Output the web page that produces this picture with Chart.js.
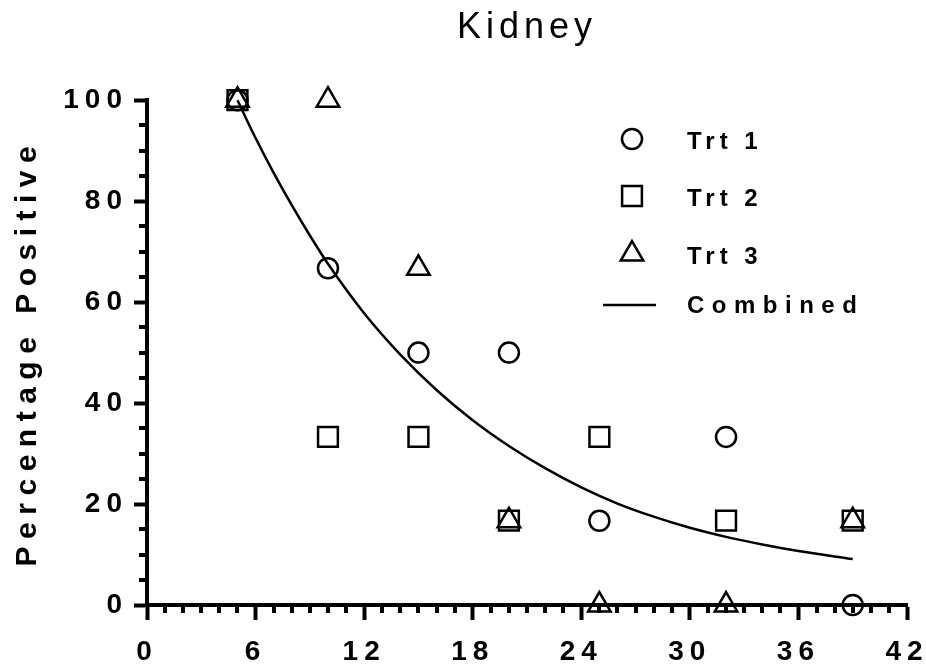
<!DOCTYPE html>
<html>
<head>
<meta charset="utf-8">
<script src="https://cdn.jsdelivr.net/npm/chart.js@4.4.1/dist/chart.umd.min.js"></script>
<style>
html,body{margin:0;padding:0;background:#fff;}
canvas{display:block;}
</style>
</head>
<body>
<canvas id="c" width="926" height="668"></canvas>
<script>
// ---- data ----
const chartTitle = 'Kidney';
const yAxisTitle = 'Percentage Positive';
const seriesLabels = ['Trt 1', 'Trt 2', 'Trt 3', 'Combined'];
const xValues = [5, 10, 15, 20, 25, 32, 39];
const trt1 = [100, 66.7, 50, 50, 16.7, 33.3, 0];
const trt2 = [100, 33.3, 33.3, 16.7, 33.3, 16.7, 16.7];
const trt3 = [100, 100, 66.7, 16.7, 0, 0, 16.7];
const curveX = [5, 6, 7, 8, 9, 10, 12, 14, 16, 18, 20, 22, 24, 26, 28, 30, 32, 34, 36, 39];
const curveY = [100, 92.5, 85.6, 79.2, 73.2, 67.6, 57.8, 49.6, 42.6, 36.6, 31.5, 27.1, 23.3, 20.1, 17.5, 15.3, 13.5, 12, 10.7, 9.1];
const xTickValues = [0, 6, 12, 18, 24, 30, 36, 42];
const yTickValues = [0, 20, 40, 60, 80, 100];

const FONT = "'Liberation Sans', Arial, Helvetica, sans-serif";

// letter spacing per font size (the reference uses widely tracked text)
const spacingBySize = { '36': '5px', '28': '6px', '30': '7.5px' };
const origFillText = CanvasRenderingContext2D.prototype.fillText;
CanvasRenderingContext2D.prototype.fillText = function (t, x, y, mw) {
  const m = /(\d+(?:\.\d+)?)px/.exec(this.font);
  const prev = this.letterSpacing;
  if (m && spacingBySize[m[1]]) this.letterSpacing = spacingBySize[m[1]];
  if (mw === undefined) origFillText.call(this, t, x, y); else origFillText.call(this, t, x, y, mw);
  this.letterSpacing = prev;
};

const pts = (xs, ys) => xs.map((x, i) => ({ x: x, y: ys[i] }));

const markerStyles = [
  { pointStyle: 'circle', radius: 10 },
  { pointStyle: 'rect', radius: 14 },
  { pointStyle: 'triangle', radius: 13 }
];

const minorTicks = {
  id: 'minorTicks',
  afterDraw(chart) {
    const ctx = chart.ctx;
    const xs = chart.scales.x, ys = chart.scales.y;
    const area = chart.chartArea;
    ctx.save();
    ctx.strokeStyle = '#000';
    ctx.lineWidth = 4;
    ctx.beginPath();
    for (let v = xs.min; v <= xs.max; v += 1) {
      if (xTickValues.includes(v)) continue;
      const px = Math.round(xs.getPixelForValue(v));
      ctx.moveTo(px, area.bottom);
      ctx.lineTo(px, area.bottom + 8);
    }
    for (let v = ys.min; v <= ys.max; v += 5) {
      if (yTickValues.includes(v)) continue;
      const py = Math.round(ys.getPixelForValue(v));
      ctx.moveTo(area.left, py);
      ctx.lineTo(area.left - 8, py);
    }
    ctx.stroke();
    ctx.restore();
  }
};

const insideLegend = {
  id: 'insideLegend',
  afterDraw(chart) {
    const ctx = chart.ctx;
    const rows = [139, 196, 254, 305];
    const symX = 632, textX = 687;
    ctx.save();
    ctx.strokeStyle = '#000';
    ctx.textAlign = 'left';
    ctx.textBaseline = 'middle';
    chart.data.datasets.forEach((ds, i) => {
      const y = rows[i];
      ctx.font = 'bold 24px ' + FONT;
      if (i < 3) {
        ctx.fillStyle = 'rgba(0,0,0,0)';
        ctx.lineWidth = 2.5;
        Chart.helpers.drawPoint(ctx, {
          pointStyle: markerStyles[i].pointStyle,
          radius: markerStyles[i].radius,
          borderWidth: 2.5,
          rotation: 0
        }, symX, y);
        ctx.fillStyle = '#000';
        ctx.letterSpacing = '5px';
        origFillText.call(ctx, ds.label, textX, y + 3);
      } else {
        ctx.lineWidth = 2.5;
        ctx.beginPath();
        ctx.moveTo(603, y);
        ctx.lineTo(656, y);
        ctx.stroke();
        ctx.fillStyle = '#000';
        ctx.letterSpacing = '7.5px';
        origFillText.call(ctx, ds.label, textX, y + 1);
      }
      ctx.letterSpacing = '0px';
    });
    ctx.restore();
  }
};

const scatterSet = (label, ys, i) => ({
  type: 'scatter',
  label: label,
  data: pts(xValues, ys),
  showLine: false,
  pointStyle: markerStyles[i].pointStyle,
  pointRadius: markerStyles[i].radius,
  pointHoverRadius: markerStyles[i].radius,
  pointBorderWidth: 2.5,
  pointBorderColor: '#000',
  pointBackgroundColor: 'rgba(0,0,0,0)',
  clip: false,
  order: 1
});

new Chart(document.getElementById('c'), {
  type: 'scatter',
  data: {
    datasets: [
      scatterSet(seriesLabels[0], trt1, 0),
      scatterSet(seriesLabels[1], trt2, 1),
      scatterSet(seriesLabels[2], trt3, 2),
      {
        type: 'line',
        label: seriesLabels[3],
        data: pts(curveX, curveY),
        borderColor: '#000',
        borderWidth: 2.5,
        pointRadius: 0,
        fill: false,
        cubicInterpolationMode: 'monotone',
        clip: false,
        order: 2
      }
    ]
  },
  options: {
    responsive: false,
    animation: false,
    devicePixelRatio: 1,
    layout: { padding: { left: 0, right: 19, top: 0, bottom: 0 } },
    plugins: {
      legend: { display: false },
      tooltip: { enabled: false },
      title: {
        display: true,
        fullSize: false,
        text: chartTitle,
        color: '#000',
        font: { family: FONT, size: 36, weight: 'normal' },
        padding: { top: 6, bottom: 51 }
      }
    },
    scales: {
      x: {
        type: 'linear',
        min: 0,
        max: 42,
        afterFit(s) { s.height = 63; s.paddingLeft = 0; s.paddingRight = 0; },
        afterBuildTicks(s) { s.ticks = xTickValues.map(v => ({ value: v })); },
        ticks: {
          color: '#000',
          font: { family: FONT, size: 28, weight: 'bold' },
          padding: 15,
          maxRotation: 0,
          autoSkip: false
        },
        grid: {
          display: true,
          drawOnChartArea: false,
          drawTicks: true,
          tickLength: 15,
          tickWidth: 4,
          tickColor: '#000'
        },
        border: { display: true, color: '#000', width: 4 }
      },
      y: {
        type: 'linear',
        min: 0,
        max: 100,
        afterFit(s) { s.width = 147; },
        afterBuildTicks(s) { s.ticks = yTickValues.map(v => ({ value: v })); },
        ticks: {
          color: '#000',
          font: { family: FONT, size: 28, weight: 'bold' },
          padding: 6,
          autoSkip: false
        },
        grid: {
          display: true,
          drawOnChartArea: false,
          drawTicks: true,
          tickLength: 13,
          tickWidth: 4,
          tickColor: '#000'
        },
        border: { display: true, color: '#000', width: 4 },
        title: {
          display: true,
          text: yAxisTitle,
          color: '#000',
          font: { family: FONT, size: 30, weight: 'bold' },
          padding: { top: 10, bottom: 0 }
        }
      }
    }
  },
  plugins: [minorTicks, insideLegend]
});
</script>
</body>
</html>
